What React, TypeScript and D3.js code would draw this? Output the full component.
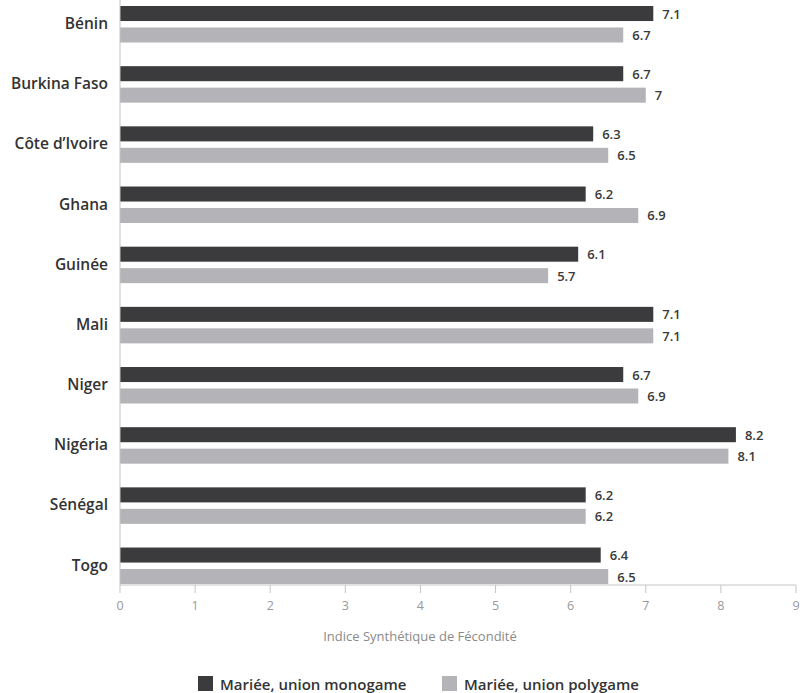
import React from "react";
import * as d3 from "d3";

const countries = ["Bénin", "Burkina Faso", "Côte d’Ivoire", "Ghana", "Guinée", "Mali", "Niger", "Nigéria", "Sénégal", "Togo"];
const monogame = [7.1, 6.7, 6.3, 6.2, 6.1, 7.1, 6.7, 8.2, 6.2, 6.4];
const polygame = [6.7, 7, 6.5, 6.9, 5.7, 7.1, 6.9, 8.1, 6.2, 6.5];
const seriesNames = ["Mariée, union monogame", "Mariée, union polygame"];
const xTicks = [0, 1, 2, 3, 4, 5, 6, 7, 8, 9];
const axisTitle = "Indice Synthétique de Fécondité";

const W = 802;
const H = 693;
const colors = ["#3b3b3d", "#b4b4b8"];
const font = "'Open Sans', 'Noto Sans', sans-serif";

export default function App() {
  const x = d3.scaleLinear().domain([0, 9]).range([120, 796]);
  // one band per country, step ~60px
  const y = d3.scaleBand<string>().domain(countries).range([0, 601.7]);
  // two bars inside each band
  const inner = d3.scaleBand<number>().domain([0, 1]).range([6, 42.5]).paddingInner(0.3);
  const axisY = 585;
  const fmt = (v: number) => (Number.isInteger(v) ? String(v) : v.toFixed(1));

  return (
    <svg width={W} height={H} style={{ position: "absolute", left: 0, top: 0, background: "#fff" }}>
      {countries.map((c, i) => {
        const vals = [monogame[i], polygame[i]];
        const y0 = y(c)!;
        return (
          <g key={c}>
            <text
              x={108}
              y={y0 + 23}
              textAnchor="end"
              dominantBaseline="central"
              fontFamily={font}
              fontWeight={600}
              fontSize={15.5}
              fill="#333"
            >
              {c}
            </text>
            {vals.map((v, k) => (
              <g key={k}>
                <rect
                  x={x(0)}
                  y={y0 + inner(k)!}
                  width={x(v) - x(0)}
                  height={inner.bandwidth()}
                  fill={colors[k]}
                />
                <text
                  x={x(v) + 9}
                  y={y0 + inner(k)! + inner.bandwidth() / 2}
                  dominantBaseline="central"
                  fontFamily={font}
                  fontWeight={600}
                  fontSize={13}
                  fill="#3a3a3a"
                >
                  {fmt(v)}
                </text>
              </g>
            ))}
          </g>
        );
      })}
      {/* axes */}
      <line x1={x(0)} x2={x(0)} y1={0} y2={axisY} stroke="#c4c4c4" strokeWidth={1} />
      <line x1={x(0)} x2={x(9)} y1={axisY} y2={axisY} stroke="#c4c4c4" strokeWidth={1} />
      {xTicks.map((t) => (
        <g key={t}>
          <line x1={x(t)} x2={x(t)} y1={axisY} y2={axisY + 8} stroke="#c4c4c4" strokeWidth={1} />
          <text
            x={x(t)}
            y={axisY + 20}
            textAnchor="middle"
            dominantBaseline="central"
            fontFamily={font}
            fontSize={12.5}
            fill="#999"
          >
            {t}
          </text>
        </g>
      ))}
      <text
        x={420}
        y={636}
        textAnchor="middle"
        dominantBaseline="central"
        fontFamily={font}
        fontSize={13}
        fill="#8a8a8a"
      >
        {axisTitle}
      </text>
      {/* legend */}
      {seriesNames.map((s, k) => {
        const lx = k === 0 ? 198 : 442;
        return (
          <g key={s}>
            <rect x={lx} y={676} width={15} height={15} fill={colors[k]} />
            <text
              x={lx + 22}
              y={683.5}
              dominantBaseline="central"
              fontFamily={font}
              fontWeight={600}
              fontSize={15}
              fill="#333"
            >
              {s}
            </text>
          </g>
        );
      })}
    </svg>
  );
}
